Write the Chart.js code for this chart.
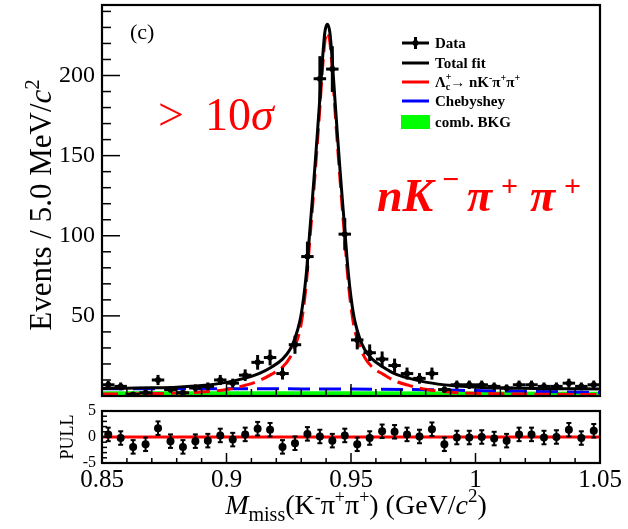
<!DOCTYPE html>
<html>
<head>
<meta charset="utf-8">
<script src="https://cdn.jsdelivr.net/npm/chart.js@4.4.0/dist/chart.umd.min.js"></script>
<style>
    html, body { margin: 0; padding: 0; background: #fff; }
    #wrap { position: relative; width: 628px; height: 529px; }
    #mainChart { position: absolute; left: 0; top: 0; }
    #pullChart { position: absolute; left: 0; top: 400px; }
</style>
</head>
<body>
<div id="wrap">
    <canvas id="mainChart" width="628" height="400"></canvas>
    <canvas id="pullChart" width="628" height="129"></canvas>
</div>
<script>
// --- Data ---
const xMin = 0.85, xMax = 1.05;
const binHalfWidth = 0.0025;
const binCenters = [0.8525, 0.8575, 0.8625, 0.8675, 0.8725, 0.8775, 0.8825, 0.8875, 0.8925, 0.8975,
    0.9025, 0.9075, 0.9125, 0.9175, 0.9225, 0.9275, 0.9325, 0.9375, 0.9425, 0.9475,
    0.9525, 0.9575, 0.9625, 0.9675, 0.9725, 0.9775, 0.9825, 0.9875, 0.9925, 0.9975,
    1.0025, 1.0075, 1.0125, 1.0175, 1.0225, 1.0275, 1.0325, 1.0375, 1.0425, 1.0475];
const counts = [7, 6, 1, 2, 10, 4, 2, 5, 6, 10,
    8, 13, 21, 24, 14, 32, 87, 198, 204, 101,
    35, 27, 23, 19, 14, 11, 14, 4, 7, 7,
    7, 6, 5, 7, 7, 6, 6, 8, 6, 7];
const pulls = [0.5, -0.2, -1.9, -1.4, 1.7, -0.8, -1.9, -0.8, -0.7, 0.3,
    -0.5, 0.5, 1.6, 1.4, -1.9, -1.2, 0.6, 0.1, -0.7, 0.3,
    -1.4, -0.2, 1.1, 1.0, 0.5, 0.1, 1.5, -1.4, -0.1, -0.1,
    0.0, -0.3, -0.7, 0.5, 0.5, -0.1, 0.0, 1.4, -0.2, 1.2];
const pullError = 1.3;

// fit curves (x in GeV/c2)
const fitX = [0.85, 0.86, 0.87, 0.88, 0.89, 0.90, 0.907, 0.913, 0.918, 0.9225, 0.9255, 0.9275, 0.9295,
    0.9305, 0.9315, 0.9325, 0.9335, 0.9345, 0.9355, 0.9365, 0.9375, 0.9385, 0.9395, 0.9405,
    0.9415, 0.9425, 0.9435, 0.9445, 0.9455, 0.9465, 0.9475, 0.9485, 0.9495, 0.9505, 0.9515,
    0.9535, 0.9555, 0.9585, 0.963, 0.9675, 0.9735, 0.9805, 0.9905, 1.0005, 1.0105, 1.02, 1.03, 1.04, 1.05];
const totalFit = [4.7, 4.9, 5.1, 5.5, 6.5, 8.5, 11, 14, 18, 23, 29, 36, 47,
    56, 68, 84, 104, 123, 143, 164, 186, 209, 227, 232,
    227, 209, 186, 164, 143, 123, 104, 84, 68, 56, 47,
    36, 29, 23, 18, 14, 11, 8.5, 6.5, 5.5, 5.0, 4.8, 4.6, 4.5, 4.4];
const signalFit = [1.2, 1.3, 1.5, 1.8, 2.5, 4, 6.5, 9.5, 13.5, 18, 24, 31, 41,
    50, 62, 78, 98, 117, 137, 158, 180, 203, 221, 227,
    221, 203, 180, 158, 137, 117, 98, 78, 62, 50, 41,
    31, 24, 18, 13.5, 9.5, 6.5, 4, 2.3, 1.7, 1.4, 1.2, 1.1, 1.0, 1.0];
const chebX = [0.85, 0.90, 0.95, 0.98, 1.00, 1.02, 1.05];
const chebY = [4.5, 4.5, 4.3, 3.9, 3.4, 2.9, 2.2];
const combX = [0.85, 0.95, 1.05];
const combY = [3.0, 2.9, 2.7];

const SERIF = '"Liberation Serif", "DejaVu Serif", serif';
const pts = (xs, ys) => xs.map((x, i) => ({ x: x, y: ys[i] }));

// draws a run of text pieces one after the other
function richText(ctx, x, y, parts) {
    let cx = x;
    parts.forEach(p => {
        ctx.font = p.font;
        ctx.fillStyle = p.color || '#000';
        ctx.fillText(p.t, cx, y + (p.dy || 0));
        if (!p.stack) cx += ctx.measureText(p.t).width;
    });
    return cx - x;
}
function richWidth(ctx, parts) {
    let w = 0;
    parts.forEach(p => {
        ctx.font = p.font;
        if (!p.stack) w += ctx.measureText(p.t).width;
    });
    return w;
}
function seg(ctx, x0, y0, x1, y1) {
    ctx.beginPath();
    ctx.moveTo(x0, y0);
    ctx.lineTo(x1, y1);
    ctx.stroke();
}
function frameAndTicks(ctx, a, xs, ys, yStep, yMajor, yMax, yLen, xLen) {
    ctx.save();
    ctx.strokeStyle = '#000';
    ctx.lineWidth = 1.5;
    for (let v = ys.min; v <= yMax + 1e-9; v += yStep) {
        const major = Math.abs(v / yMajor - Math.round(v / yMajor)) < 1e-6;
        const py = ys.getPixelForValue(v);
        seg(ctx, a.left, py, a.left + (major ? yLen[0] : yLen[1]), py);
    }
    for (let k = 0; k <= 20; k++) {
        const px = xs.getPixelForValue(xMin + k * 0.01);
        seg(ctx, px, a.bottom, px, a.bottom - (k % 5 === 0 ? xLen[0] : xLen[1]));
    }
    ctx.lineWidth = 2.2;
    ctx.strokeRect(a.left, a.top, a.right - a.left, a.bottom - a.top);
    ctx.restore();
}

// --- main panel decorations ---
const mainDecor = {
    id: 'mainDecor',
    afterDatasetsDraw(chart) {
        const { ctx, chartArea: a, scales: { x, y } } = chart;
        ctx.save();
        ctx.beginPath();
        ctx.rect(a.left, a.top, a.right - a.left, a.bottom - a.top);
        ctx.clip();
        ctx.strokeStyle = '#000';
        ctx.lineWidth = 3;
        binCenters.forEach((c, i) => {
            const n = counts[i], e = Math.sqrt(n);
            const px = x.getPixelForValue(c), py = y.getPixelForValue(n);
            seg(ctx, x.getPixelForValue(c - binHalfWidth), py, x.getPixelForValue(c + binHalfWidth), py);
            seg(ctx, px, y.getPixelForValue(n + e), px, y.getPixelForValue(Math.max(n - e, 0)));
        });
        ctx.restore();
        frameAndTicks(ctx, a, x, y, 10, 50, 240, [18, 9], [12, 7]);
    },
    afterDraw(chart) {
        const ctx = chart.ctx;
        ctx.save();
        ctx.textBaseline = 'alphabetic';
        // panel tag
        richText(ctx, 130, 39, [{ t: '(c)', font: '22px ' + SERIF }]);
        // significance
        const red = '#ff0000';
        richText(ctx, 158, 130, [{ t: '>', font: '46px ' + SERIF, color: red }]);
        richText(ctx, 205, 130, [
            { t: '10', font: '46px ' + SERIF, color: red },
            { t: 'σ', font: 'italic 46px ' + SERIF, color: red }
        ]);
        // channel
        const big = 'italic bold 46px ' + SERIF, sup = 'bold 30px ' + SERIF;
        richText(ctx, 377, 211, [{ t: 'nK', font: big, color: red }]);
        richText(ctx, 442, 189, [{ t: '−', font: sup, color: red }]);
        richText(ctx, 467, 211, [{ t: 'π', font: big, color: red }]);
        richText(ctx, 501, 196, [{ t: '+', font: sup, color: red }]);
        richText(ctx, 530, 211, [{ t: 'π', font: big, color: red }]);
        richText(ctx, 564, 196, [{ t: '+', font: sup, color: red }]);

        // legend
        const lf = 'bold 15px ' + SERIF, ls = 'bold 10px ' + SERIF;
        const x0 = 402, x1 = 429, tx = 435;
        ctx.lineWidth = 3;
        ctx.strokeStyle = '#000';
        seg(ctx, x0, 43, x1, 43);
        seg(ctx, 415.5, 37, 415.5, 49);
        ctx.beginPath(); ctx.arc(415.5, 43, 3, 0, Math.PI * 2); ctx.fillStyle = '#000'; ctx.fill();
        richText(ctx, tx, 48, [{ t: 'Data', font: lf }]);
        seg(ctx, x0, 63, x1, 63);
        richText(ctx, tx, 68, [{ t: 'Total fit', font: lf }]);
        ctx.strokeStyle = red;
        seg(ctx, x0, 82, x1, 82);
        richText(ctx, tx, 87, [
            { t: 'Λ', font: lf },
            { t: '+', font: ls, dy: -7, stack: true },
            { t: 'c', font: ls, dy: 3 },
            { t: '→ nK', font: lf },
            { t: '-', font: ls, dy: -6 },
            { t: 'π', font: lf },
            { t: '+', font: ls, dy: -6 },
            { t: 'π', font: lf },
            { t: '+', font: ls, dy: -6 }
        ]);
        ctx.strokeStyle = '#0000ff';
        seg(ctx, x0, 101, x1, 101);
        richText(ctx, tx, 106, [{ t: 'Chebyshey', font: lf }]);
        ctx.fillStyle = '#00ff00';
        ctx.fillRect(401, 115, 29, 14);
        richText(ctx, tx, 127, [{ t: 'comb. BKG', font: lf }]);

        // y axis title
        const yt = [
            { t: 'Events / 5.0 MeV/', font: '31px ' + SERIF },
            { t: 'c', font: 'italic 31px ' + SERIF },
            { t: '2', font: '21px ' + SERIF, dy: -12 }
        ];
        const w = richWidth(ctx, yt);
        ctx.translate(51, 205);
        ctx.rotate(-Math.PI / 2);
        richText(ctx, -w / 2, 0, yt);
        ctx.restore();
    }
};

// --- pull panel decorations ---
const pullDecor = {
    id: 'pullDecor',
    afterDatasetsDraw(chart) {
        const { ctx, chartArea: a, scales: { x, y } } = chart;
        ctx.save();
        ctx.strokeStyle = '#000';
        ctx.lineWidth = 2;
        binCenters.forEach((c, i) => {
            const px = x.getPixelForValue(c);
            const yt = y.getPixelForValue(pulls[i] + pullError), yb = y.getPixelForValue(pulls[i] - pullError);
            seg(ctx, px, yt, px, yb);
            seg(ctx, px - 2.5, yt, px + 2.5, yt);
            seg(ctx, px - 2.5, yb, px + 2.5, yb);
        });
        ctx.restore();
        frameAndTicks(ctx, a, x, y, 1, 5, 5, [10, 5], [10, 5]);
    },
    afterDraw(chart) {
        const ctx = chart.ctx;
        ctx.save();
        ctx.textBaseline = 'alphabetic';
        // PULL label
        const pl = [{ t: 'PULL', font: '18px ' + SERIF }];
        const pw = richWidth(ctx, pl);
        ctx.save();
        ctx.translate(73, 37);
        ctx.rotate(-Math.PI / 2);
        richText(ctx, -pw / 2, 0, pl);
        ctx.restore();
        // x axis title
        const f = '28px ' + SERIF, fi = 'italic 28px ' + SERIF, fs = '18px ' + SERIF;
        const xt = [
            { t: 'M', font: fi },
            { t: 'miss', font: '20px ' + SERIF, dy: 7 },
            { t: '(K', font: f },
            { t: '-', font: fs, dy: -11 },
            { t: 'π', font: f },
            { t: '+', font: fs, dy: -11 },
            { t: 'π', font: f },
            { t: '+', font: fs, dy: -11 },
            { t: ') (GeV/', font: f },
            { t: 'c', font: fi },
            { t: '2', font: '19px ' + SERIF, dy: -12 },
            { t: ')', font: f }
        ];
        const w = richWidth(ctx, xt);
        richText(ctx, 356 - w / 2, 114, xt);
        ctx.restore();
    }
};

const noPad = s => { s.paddingTop = 0; s.paddingBottom = 0; s.paddingLeft = 0; s.paddingRight = 0; };

// --- main chart ---
new Chart(document.getElementById('mainChart'), {
    type: 'line',
    data: {
        datasets: [
            { label: 'Data', data: pts(binCenters, counts), showLine: false, pointRadius: 3,
              pointBackgroundColor: '#000', pointBorderWidth: 0, order: 0 },
            { label: 'Total fit', data: pts(fitX, totalFit), borderColor: '#000', borderWidth: 3,
              pointRadius: 0, cubicInterpolationMode: 'monotone', order: 1 },
            { label: 'Signal', data: pts(fitX, signalFit), borderColor: '#ff0000', borderWidth: 3,
              borderDash: [16, 7], pointRadius: 0, cubicInterpolationMode: 'monotone', order: 2 },
            { label: 'Chebyshey', data: pts(chebX, chebY), borderColor: '#0000ff', borderWidth: 3,
              borderDash: [22, 9], pointRadius: 0, cubicInterpolationMode: 'monotone', order: 3 },
            { label: 'comb. BKG', data: pts(combX, combY), borderColor: '#00ff00', borderWidth: 0,
              backgroundColor: '#00ff00', fill: 'origin', pointRadius: 0, order: 4 }
        ]
    },
    options: {
        responsive: false,
        animation: false,
        layout: { padding: { top: 5, right: 28, bottom: 3, left: 0 } },
        plugins: { legend: { display: false }, tooltip: { enabled: false } },
        scales: {
            x: { type: 'linear', min: xMin, max: xMax, display: false },
            y: {
                min: 0, max: 244,
                afterFit: s => { s.width = 102; noPad(s); },
                grid: { display: false, drawTicks: false },
                border: { display: false },
                ticks: {
                    stepSize: 50, padding: 7, color: '#000',
                    font: { family: 'Liberation Serif', size: 24 },
                    callback: v => (v > 0 && v % 50 === 0) ? v : ''
                }
            }
        }
    },
    plugins: [mainDecor]
});

// --- pull chart ---
new Chart(document.getElementById('pullChart'), {
    type: 'line',
    data: {
        datasets: [
            { label: 'Pull', data: pts(binCenters, pulls), showLine: false, pointRadius: 4,
              pointBackgroundColor: '#000', pointBorderWidth: 0, order: 0 },
            { label: 'Zero', data: [{ x: xMin, y: 0 }, { x: xMax, y: 0 }], borderColor: '#ff0000',
              borderWidth: 3, pointRadius: 0, order: 1 }
        ]
    },
    options: {
        responsive: false,
        animation: false,
        layout: { padding: { top: 11, right: 28, bottom: 0, left: 0 } },
        plugins: { legend: { display: false }, tooltip: { enabled: false } },
        scales: {
            x: {
                type: 'linear', min: xMin, max: xMax,
                afterFit: s => { s.height = 66; noPad(s); },
                grid: { display: false, drawTicks: false },
                border: { display: false },
                ticks: {
                    stepSize: 0.05, padding: 5, maxRotation: 0, autoSkip: false, color: '#000',
                    font: { family: 'Liberation Serif', size: 25, lineHeight: 1 },
                    callback: v => String(+v.toFixed(2))
                }
            },
            y: {
                min: -5, max: 5,
                afterFit: s => { s.width = 102; noPad(s); },
                grid: { display: false, drawTicks: false },
                border: { display: false },
                ticks: {
                    stepSize: 5, padding: 6, color: '#000',
                    font: { family: 'Liberation Serif', size: 16 }
                }
            }
        }
    },
    plugins: [pullDecor]
});
</script>
</body>
</html>
